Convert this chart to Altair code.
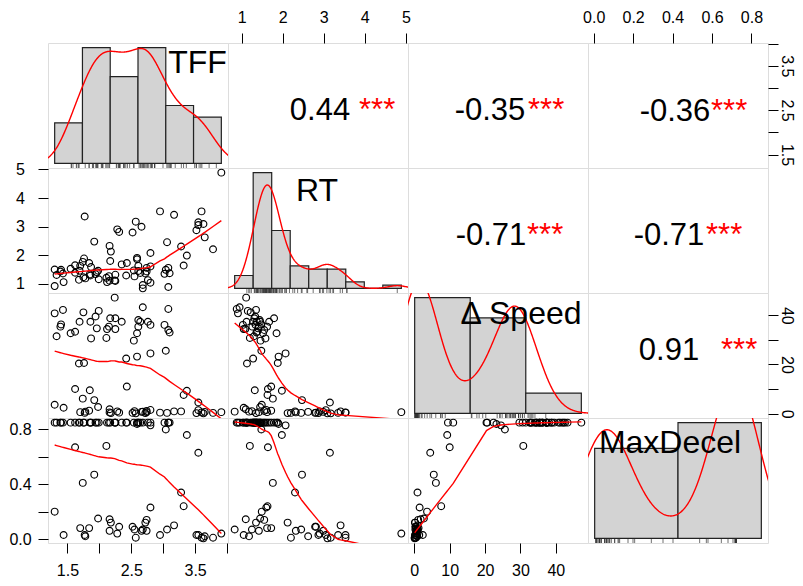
import altair as alt
import numpy as np
import pandas as pd

TFF_H = [1.30, 1.43, 1.40, 1.39, 1.33, 1.55, 1.62, 1.75, 1.69, 1.86, 1.94, 1.99, 1.87, 1.96, 1.68, 1.76,
         2.11, 2.12, 2.15, 2.17, 2.25, 2.25, 2.35, 2.24, 2.42, 2.68, 2.61, 2.64, 2.76, 2.80, 2.61, 2.59,
         2.54, 2.80, 2.59, 3.08, 3.02, 3.08, 3.04, 3.10]
RT_H = [0.91, 1.35, 1.48, 1.42, 1.30, 1.52, 1.38, 1.22, 1.45, 1.28, 1.33, 1.15, 1.58, 1.40, 1.13, 1.88,
        1.20, 1.05, 1.26, 1.79, 1.31, 1.09, 1.67, 1.11, 1.28, 0.95, 1.44, 1.37, 1.12, 1.03, 1.62, 1.85,
        1.46, 2.07, 1.90, 0.88, 1.34, 1.55, 1.48, 1.36]
DS_H = [40.8, 42.2, 36.3, 35.4, 31.5, 32.7, 33.3, 41.2, 37.4, 37.4, 39.5, 41.8, 30.6, 34.7, 20.4, 20.6,
        30.8, 34.4, 35.4, 38.8, 38.8, 34.4, 37.4, 47.2, 22.4, 43.3, 38.1, 37.4, 37.4, 36.1, 35.4, 32.7,
        29.7, 24.5, 23.2, 42.6, 36.1, 34.0, 25.6, 33.0]
MD_H = [0.85, 0.85, 0.85, 0.85, 0.85, 0.85, 0.85, 0.85, 0.85, 0.85, 0.85, 0.85, 0.85, 0.85, 0.85, 0.85,
        0.68, 0.85, 0.85, 0.85, 0.85, 0.85, 0.85, 0.85, 0.85, 0.85, 0.85, 0.85, 0.85, 0.85, 0.85, 0.85,
        0.85, 0.83, 0.84, 0.85, 0.85, 0.85, 0.80, 0.85]

TFF_C = [1.85, 2.43, 3.37, 1.62, 3.55, 1.92, 1.74, 3.28, 3.32, 2.80, 1.30, 1.98]
RT_C = [1.32, 1.72, 1.98, 1.64, 3.15, 2.47, 1.76, 2.30, 1.63, 1.60, 1.49, 1.45]
DS_C = [9.5, 11.0, 9.3, 10.0, 4.5, 5.5, 6.1, 0.9, 7.6, 1.5, 3.6, 2.7]
MD_C = [0.85, 0.85, 0.76, 0.67, 0.63, 0.47, 0.41, 0.34, 0.24, 0.23, 0.20, 0.15]

TFF_L = [1.44, 1.70, 1.77, 1.78, 1.84, 2.16, 2.16, 2.18, 2.28, 2.31, 2.52, 2.55, 2.57, 2.66, 2.68, 2.72,
         2.74, 2.74, 2.95, 3.06, 3.17, 3.52, 3.55, 3.60, 3.63, 3.65, 3.78, 3.91]
RT_L = [1.05, 1.62, 3.35, 1.18, 1.72, 2.32, 1.10, 2.12, 2.90, 2.81, 2.79, 1.25, 3.17, 2.99, 0.83, 1.35,
        1.55, 1.42, 3.53, 2.45, 3.41, 2.87, 3.05, 3.53, 3.09, 2.62, 2.20, 4.89]
DS_L = [2.4, 0.6, 0.3, 0.8, 1.2, 0.5, 1.8, 0.2, 0.9, 0.4, 0.3, 1.0, 0.1, 0.7, 0.8, 0.2,
        1.1, 0.6, 0.4, 0.3, 0.9, 0.2, 1.4, 0.5, 0.1, 0.7, 0.3, 0.6]
MD_L = [0.03, 0.08, 0.03, 0.02, 0.08, 0.06, 0.145, 0.12, 0.04, 0.09, 0.09, 0.07, 0.01, 0.06, 0.07, 0.12,
        0.14, 0.06, 0.03, 0.07, 0.10, 0.03, 0.03, 0.01, 0.005, 0.02, 0.01, 0.04]

TFF = TFF_H + TFF_C + TFF_L
RT = RT_H + RT_C + RT_L
DSPEED = DS_H + DS_C + DS_L
MAXDECEL = MD_H + MD_C + MD_L

VARS = [TFF, RT, DSPEED, MAXDECEL]
NAMES = ["TFF", "RT", "Δ Speed", "MaxDecel"]
COR_TEXT = {(0, 1): "0.44", (0, 2): "-0.35", (0, 3): "-0.36",
            (1, 2): "-0.71", (1, 3): "-0.71", (2, 3): "0.91"}
SIG_TEXT = {(0, 1): "***", (0, 2): "***", (0, 3): "***",
            (1, 2): "***", (1, 3): "***", (2, 3): "***"}
HIST_BREAKS = [[1.0, 1.5, 2.0, 2.5, 3.0, 3.5, 4.0],
               [0.5, 1.0, 1.5, 2.0, 2.5, 3.0, 3.5, 4.0, 4.5, 5.0],
               [0, 20, 40, 60],
               [0.0, 0.5, 1.0]]
TICKS = {0: [1.5, 2.0, 2.5, 3.0, 3.5, 4.0], 1: [1, 2, 3, 4, 5],
         2: [0, 10, 20, 30, 40], 3: [0.0, 0.2, 0.4, 0.6, 0.8]}
FMT = {0: ".1f", 1: "d", 2: "d", 3: ".1f"}
LABELS = {("bottom", 0): [1.5, 2.5, 3.5], ("bottom", 2): [0, 10, 20, 30, 40],
          ("top", 1): [1, 2, 3, 4, 5], ("top", 3): [0.0, 0.2, 0.4, 0.6, 0.8],
          ("left", 1): [1, 2, 3, 4, 5], ("left", 3): [0.0, 0.4, 0.8],
          ("right", 0): [1.5, 2.5, 3.5], ("right", 2): [0, 20, 40]}

# ---------------- layout constants ----------------
W, H = 180, 125
FONT = "Liberation Sans"
NAME_POS = [(149.5, 30), (89, 33), (113, 31), (82, 35)]
NUM_POS = {(0, 1): (92, 77), (0, 2): (82, 77), (0, 3): (87, 78),
           (1, 2): (83, 77), (1, 3): (81, 77), (2, 3): (81, 67)}
STAR_X = {(0, 1): 131, (0, 2): 120, (0, 3): 123, (1, 2): 119, (1, 3): 118, (2, 3): 133}


def rng(v):
    lo, hi = min(v), max(v)
    p = 0.04 * (hi - lo)
    return [lo - p, hi + p]


def bw_nrd0(v):
    v = np.asarray(v, float)
    sd = np.std(v, ddof=1)
    iqr = (np.percentile(v, 75) - np.percentile(v, 25)) / 1.34
    lo = min(sd, iqr) if iqr > 0 else sd
    return 0.9 * lo * len(v) ** (-0.2)


def lowess(x, y, f=2 / 3, it=3):
    x = np.asarray(x, float)
    y = np.asarray(y, float)
    o = np.argsort(x, kind="mergesort")
    x, y = x[o], y[o]
    n = len(x)
    ns = max(min(int(f * n + 1e-7), n), 2)
    rw = np.ones(n)
    ys = np.empty(n)
    rx = x[-1] - x[0]
    for k in range(it + 1):
        for i in range(n):
            d = np.abs(x - x[i])
            h = np.sort(d)[ns - 1]
            if h > 0:
                r = d / h
                w = np.where(d <= 0.999 * h, np.where(d <= 0.001 * h, 1.0, (1 - r ** 3) ** 3), 0.0)
            else:
                w = (d == 0).astype(float)
            w = w * rw
            sw = w.sum()
            if sw <= 0:
                ys[i] = y[i]
                continue
            w = w / sw
            if h > 0:
                a = np.sum(w * x)
                b = x[i] - a
                c = np.sum(w * (x - a) ** 2)
                if np.sqrt(c) > 0.001 * rx:
                    w = w * (b / c * (x - a) + 1)
            ys[i] = np.sum(w * y)
        if k == it:
            break
        res = np.abs(y - ys)
        cmad = 6 * np.median(res)
        if cmad < 1e-7 * np.mean(np.abs(y)):
            break
        r = res / cmad
        rw = np.where(r <= 0.001, 1.0, np.where(r <= 0.999, (1 - r ** 2) ** 2, 0.0))
    return x, ys


def make_axis(orient, k):
    labs = LABELS[(orient, k)]
    expr = "indexof(%s, datum.value) >= 0 ? format(datum.value, '%s') : ''" % (
        "[" + ",".join(repr(float(v)) for v in labs) + "]", FMT[k])
    kw = dict(orient=orient, values=TICKS[k], labelExpr=expr, title=None, domain=False, grid=False,
              ticks=True, tickSize=10, tickColor="black", tickWidth=1, labelFont=FONT,
              labelFontSize=16, labelColor="black", labelFlush=False, labelOverlap=False)
    if orient == "top":
        kw.update(labelPadding=11, labelBaseline="alphabetic", labelAlign="center", labelAngle=0)
    elif orient == "bottom":
        kw.update(labelPadding=9, labelBaseline="top", labelAlign="center", labelAngle=0)
    elif orient == "left":
        kw.update(labelPadding=18, labelBaseline="middle", labelAlign="center", labelAngle=0)
    else:
        kw.update(labelPadding=8, labelBaseline="middle", labelAlign="center", labelAngle=90)
    return alt.Axis(**kw)


def x_axis(i, j):
    if i == 3 and j in (0, 2):
        return make_axis("bottom", j)
    if i == 0 and j in (1, 3):
        return make_axis("top", j)
    return None


def y_axis(i, j):
    if j == 0 and i in (1, 3):
        return make_axis("left", i)
    if j == 3 and i in (0, 2):
        return make_axis("right", i)
    return None


def enc_x(field, dom, ax):
    return alt.X(field, scale=alt.Scale(domain=dom, nice=False, zero=False), axis=ax)


def enc_y(field, dom, ax):
    return alt.Y(field, scale=alt.Scale(domain=dom, nice=False, zero=False), axis=ax)


def text_layer(txt, x, y, size, color, align):
    return alt.Chart(pd.DataFrame({"t": [txt]})).mark_text(
        font=FONT, fontSize=size, color=color, align=align, baseline="alphabetic"
    ).encode(text="t:N", x=alt.value(x), y=alt.value(y))


def scatter_panel(i, j):
    xd, yd = rng(VARS[j]), rng(VARS[i])
    xa, ya = x_axis(i, j), y_axis(i, j)
    pts = alt.Chart(pd.DataFrame({"x": VARS[j], "y": VARS[i]})).mark_point(
        shape="circle", filled=False, color="black", size=46, strokeWidth=1.15, opacity=1, clip=True
    ).encode(x=enc_x("x:Q", xd, xa), y=enc_y("y:Q", yd, ya))
    lx, ly = lowess(VARS[j], VARS[i])
    sm = alt.Chart(pd.DataFrame({"x": lx, "y": ly, "o": np.arange(len(lx))})).mark_line(
        color="red", strokeWidth=1.4, clip=True
    ).encode(x=enc_x("x:Q", xd, xa), y=enc_y("y:Q", yd, ya), order="o:Q")
    return alt.layer(pts, sm).properties(width=W, height=H)


def upper_panel(i, j):
    xd, yd = rng(VARS[j]), rng(VARS[i])
    xa, ya = x_axis(i, j), y_axis(i, j)
    ghost = alt.Chart(pd.DataFrame({"x": VARS[j], "y": VARS[i]})).mark_point(opacity=0).encode(
        x=enc_x("x:Q", xd, xa), y=enc_y("y:Q", yd, ya))
    nx, ny = NUM_POS[(i, j)]
    num = text_layer(COR_TEXT[(i, j)], nx, ny, 31, "black", "center")
    sig = text_layer(SIG_TEXT[(i, j)], STAR_X[(i, j)], ny, 31, "red", "left")
    return alt.layer(ghost, num, sig).properties(width=W, height=H)


def diag_panel(k):
    v = np.asarray(VARS[k], float)
    br = np.asarray(HIST_BREAKS[k], float)
    nb = len(br) - 1
    idx = np.clip(np.searchsorted(br, v, side="left") - 1, 0, nb - 1)
    counts = np.bincount(idx, minlength=nb)
    dens = counts / (len(v) * np.diff(br))
    span = br[-1] - br[0]
    xd = [br[0] - 0.04 * span, br[-1] + 0.04 * span]
    md = dens.max()
    yd = [-0.04 * md, 1.04 * md]
    hist = pd.DataFrame({"lo": br[:-1], "hi": br[1:], "d": dens, "z": 0.0})
    bars = alt.Chart(hist).mark_rect(fill="#D3D3D3", stroke="#222222", strokeWidth=1.2).encode(
        x=enc_x("lo:Q", xd, None), x2="hi:Q", y=enc_y("d:Q", yd, None), y2="z:Q")
    bw = bw_nrd0(v)
    curve = alt.Chart(pd.DataFrame({"v": v})).transform_density(
        "v", bandwidth=bw, extent=[float(v.min() - 3 * bw), float(v.max() + 3 * bw)], steps=512,
        as_=["value", "density"]
    ).mark_line(color="red", strokeWidth=1.4, clip=True).encode(
        x=enc_x("value:Q", xd, None), y=enc_y("density:Q", yd, None))
    rug = alt.Chart(pd.DataFrame({"v": v})).mark_rule(color="#333333", strokeWidth=0.7, clip=True).encode(
        x=enc_x("v:Q", xd, None), y=alt.value(H), y2=alt.value(H - 4))
    lx, ly = NAME_POS[k]
    name = text_layer(NAMES[k], lx, ly, 32, "black", "center")
    return alt.layer(bars, curve, rug, name).properties(width=W, height=H)


panels = []
for i in range(4):
    for j in range(4):
        if i == j:
            panels.append(diag_panel(i))
        elif i > j:
            panels.append(scatter_panel(i, j))
        else:
            panels.append(upper_panel(i, j))

chart = alt.concat(*panels, columns=4, spacing=0, bounds="flush").resolve_scale(
    x="independent", y="independent"
).properties(
    padding={"left": 0, "top": 0, "right": 0, "bottom": 0}
).configure_view(
    stroke="black", strokeWidth=1.5
).configure(background="white")

chart.save("out.html", embed_options={"renderer": "svg", "actions": False})
